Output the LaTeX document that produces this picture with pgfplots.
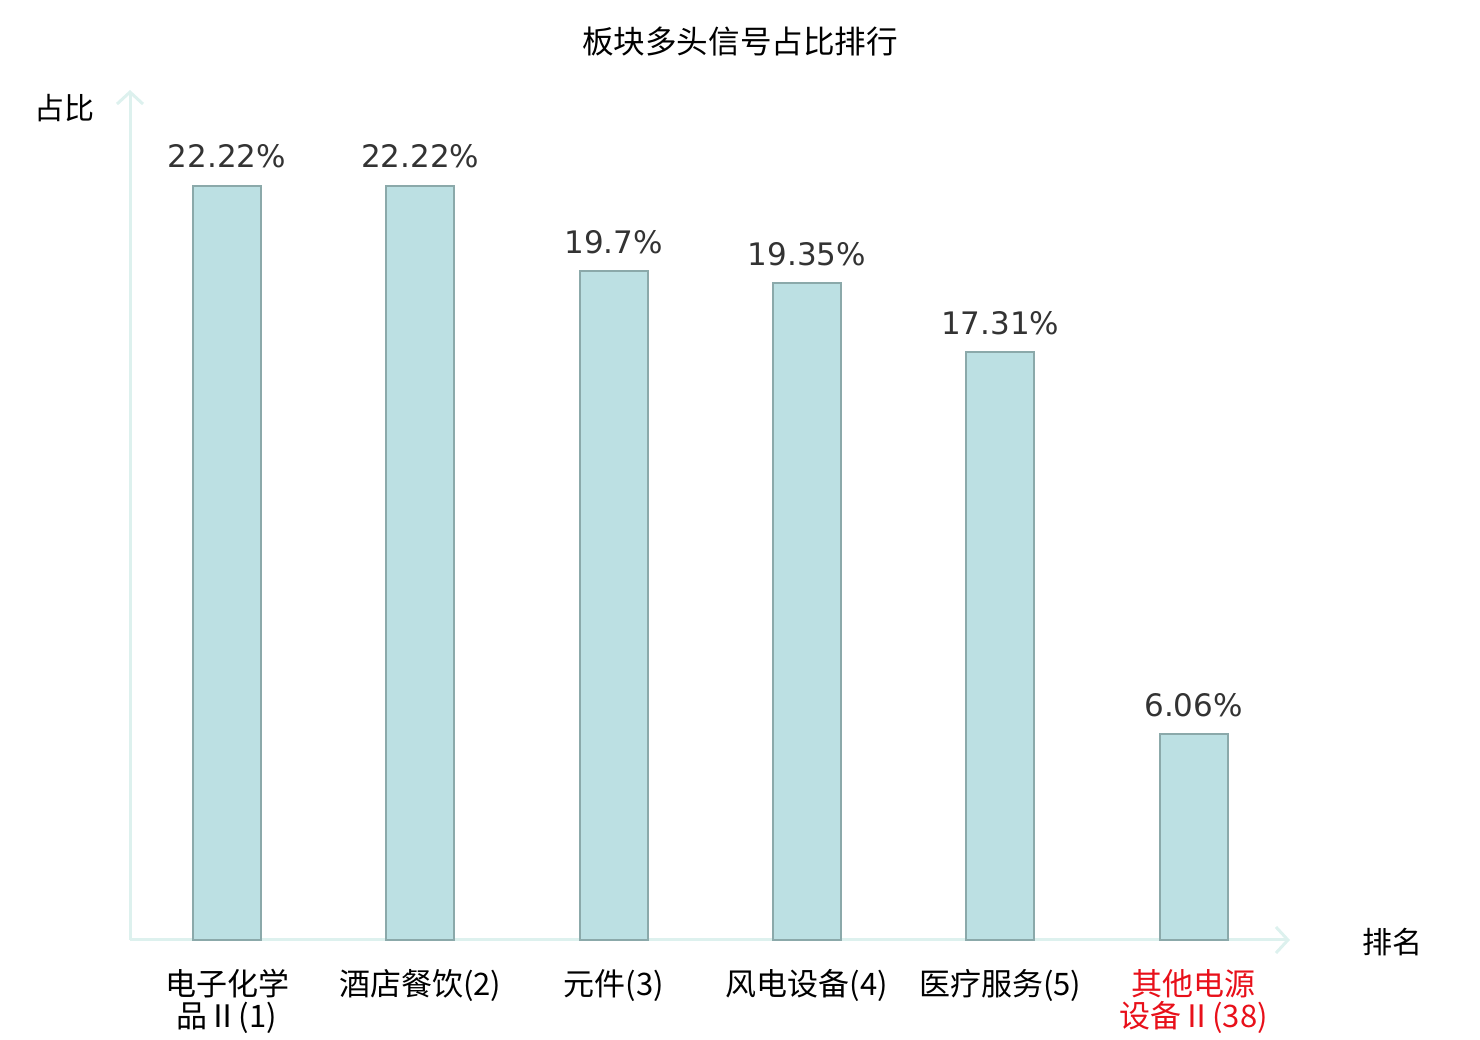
\documentclass[border=0pt]{standalone}
\usepackage{pgfplots}
\pgfplotsset{compat=1.18}
\usepackage{fontspec}
\setmainfont{Noto Sans CJK SC}
\newfontfamily\valfont{DejaVu Sans}
\usetikzlibrary{arrows.meta}
\definecolor{barfill}{HTML}{BCE0E3}
\definecolor{baredge}{HTML}{8BA9AA}
\definecolor{axcol}{HTML}{DDF1EE}
\definecolor{valcol}{HTML}{333333}
\definecolor{redlab}{HTML}{E8101A}
\begin{document}
\begin{tikzpicture}[x=1pt,y=1pt]
\path[use as bounding box] (0,0) rectangle (740,520);
\begin{axis}[
  at={(65pt,50pt)}, anchor=south west,
  scale only axis, width=580pt, height=425pt,
  xmin=-0.502, xmax=5.499, ymin=0, ymax=25.04,
  axis lines=left,
  axis line style={draw=axcol, line width=1.5pt, -{Straight Barb[length=6pt,width=13pt,line width=1.5pt]}},
  ytick=\empty,
  xtick={0,1,2,3,4,5},
  major tick length=0pt,
  xticklabels={{电子化学\\品Ⅱ(1)},{酒店餐饮(2)},{元件(3)},{风电设备(4)},{医疗服务(5)},{\textcolor{redlab}{其他电源}\\\textcolor{redlab}{设备Ⅱ(38)}}},
  xticklabel style={align=center, font=\fontsize{15.5}{16}\selectfont, anchor=north, inner sep=0pt, yshift=-14.5pt},
  ybar, bar width=34pt,
  point meta=explicit symbolic,
  nodes near coords={\pgfplotspointmeta\%},
  nodes near coords style={font=\valfont\fontsize{15.5}{16}\selectfont, text=valcol, anchor=base, inner sep=0pt, yshift=9pt},
  clip=false,
]
\addplot[fill=barfill, draw=baredge, line width=1pt] coordinates {
  (0,22.22) [22.22]
  (1,22.22) [22.22]
  (2,19.70) [19.7]
  (3,19.35) [19.35]
  (4,17.31) [17.31]
  (5,6.06) [6.06]
};
\end{axis}
\node[font=\fontsize{15.8}{16}\selectfont, anchor=center] at (370,499) {板块多头信号占比排行};
\node[font=\fontsize{15}{16}\selectfont, anchor=center] at (32,466) {占比};
\node[font=\fontsize{15}{16}\selectfont, anchor=center] at (696,49) {排名};
\end{tikzpicture}
\end{document}
